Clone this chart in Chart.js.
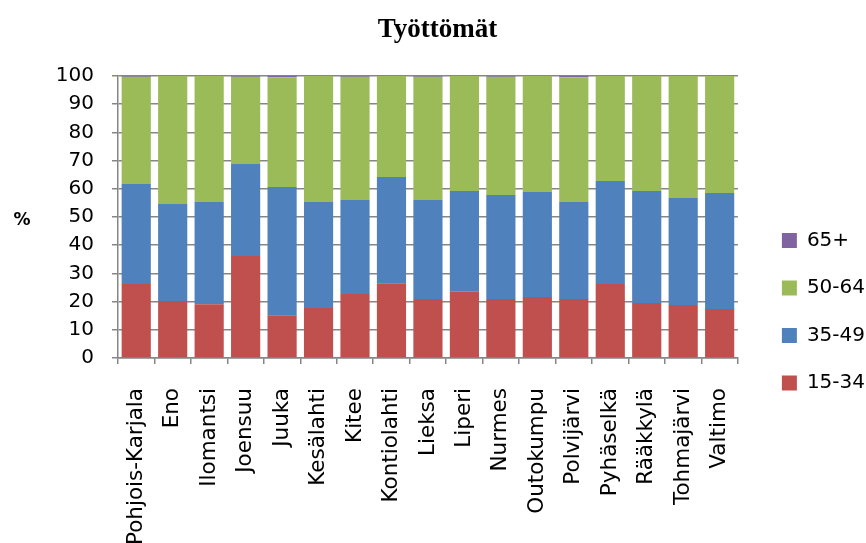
<!DOCTYPE html>
<html>
<head>
<meta charset="utf-8">
<script src="https://cdn.jsdelivr.net/npm/chart.js@4.4.1/dist/chart.umd.min.js"></script>
<style>
  html, body { margin: 0; padding: 0; background: #ffffff; }
  #wrap { position: relative; width: 866px; height: 543px; }
</style>
</head>
<body>
<div id="wrap"><canvas id="c"></canvas></div>
<script>
const chartTitle = 'Työttömät';
const yAxisLabel = '%';
const categories = ['Pohjois-Karjala', 'Eno', 'Ilomantsi', 'Joensuu', 'Juuka', 'Kesälahti', 'Kitee', 'Kontiolahti', 'Lieksa', 'Liperi', 'Nurmes', 'Outokumpu', 'Polvijärvi', 'Pyhäselkä', 'Rääkkylä', 'Tohmajärvi', 'Valtimo'];
const seriesNames = ['15-34', '35-49', '50-64', '65+'];
const age15to34 = [26.2, 20.2, 19.1, 36.2, 15.2, 17.7, 22.7, 26.5, 20.9, 23.5, 20.9, 21.6, 20.9, 26.2, 19.5, 18.8, 17.4];
const age35to49 = [35.5, 34.4, 36.2, 32.6, 45.4, 37.6, 33.3, 37.7, 35.1, 35.7, 36.9, 37.3, 34.4, 36.6, 39.7, 37.9, 41.1];
const age50to64 = [38.0, 45.4, 44.7, 30.9, 38.9, 44.7, 43.7, 35.8, 43.7, 40.8, 41.9, 41.1, 44.2, 37.2, 40.8, 43.3, 41.5];
const age65plus = [0.3, 0.0, 0.0, 0.3, 0.5, 0.0, 0.3, 0.0, 0.3, 0.0, 0.3, 0.0, 0.5, 0.0, 0.0, 0.0, 0.0];
const yTicks = [0, 10, 20, 30, 40, 50, 60, 70, 80, 90, 100];

const colors = ['#C0504D', '#4F81BD', '#9BBB59', '#8064A2'];
const gridColor = '#868686';
const FONT = "'DejaVu Sans', sans-serif";

Chart.defaults.font.family = FONT;
Chart.defaults.color = '#000000';

const yLabelPlugin = {
  id: 'yLabel',
  afterDraw(chart) {
    const ctx = chart.ctx;
    const area = chart.chartArea;
    ctx.save();
    ctx.font = "bold 17px " + FONT;
    ctx.fillStyle = '#000000';
    ctx.textAlign = 'center';
    ctx.textBaseline = 'middle';
    ctx.fillText(yAxisLabel, 22, (area.top + area.bottom) / 2 + 4);
    ctx.restore();
  }
};

const seriesData = [age15to34, age35to49, age50to64, age65plus];

new Chart(document.getElementById('c'), {
  type: 'bar',
  data: {
    labels: categories,
    datasets: seriesNames.map((name, i) => ({
      label: name,
      data: seriesData[i],
      backgroundColor: colors[i],
      borderWidth: 0,
      categoryPercentage: 1.0,
      barPercentage: 0.8
    }))
  },
  options: {
    responsive: true,
    maintainAspectRatio: false,
    animation: false,
    layout: { padding: { top: 0, left: 0, right: -9, bottom: 0 } },
    plugins: {
      title: {
        display: true,
        text: chartTitle,
        font: { family: "'Liberation Serif', serif", size: 27, weight: 'bold' },
        color: '#000000',
        padding: { top: 14, bottom: 29.6 }
      },
      legend: {
        display: true,
        position: 'right',
        align: 'start',
        reverse: true,
        title: { display: true, text: '', font: { size: 10, lineHeight: 1 }, padding: { top: 193, bottom: 0 } },
        labels: {
          boxWidth: 15,
          boxHeight: 15,
          padding: 27.5,
          font: { size: 20 },
          color: '#000000'
        }
      },
      tooltip: { enabled: false }
    },
    scales: {
      x: {
        stacked: true,
        afterFit(scale) { scale.height = 185; },
        grid: { display: true, drawOnChartArea: false, drawTicks: true, tickLength: 6, color: gridColor, lineWidth: 1.5, offset: true },
        border: { display: true, color: gridColor, width: 1.5 },
        ticks: { minRotation: 90, maxRotation: 90, autoSkip: false, padding: 24, font: { size: 21.5 }, color: '#000000' }
      },
      y: {
        stacked: true,
        min: 0,
        max: 100,
        afterFit(scale) { scale.width = 118; },
        afterBuildTicks(scale) { scale.ticks = yTicks.map(v => ({ value: v })); },
        grid: { display: true, drawTicks: true, tickLength: 6, color: gridColor, lineWidth: 1.5 },
        border: { display: true, color: gridColor, width: 1.5 },
        ticks: { stepSize: 10, autoSkip: false, padding: 18, font: { size: 20 }, color: '#000000' }
      },
      yR: {
        type: 'linear',
        position: 'right',
        display: true,
        grid: { display: false },
        border: { display: false },
        ticks: { display: false },
        afterFit(scale) { scale.width = 16.5; }
      }
    }
  },
  plugins: [yLabelPlugin]
});
</script>
</body>
</html>
